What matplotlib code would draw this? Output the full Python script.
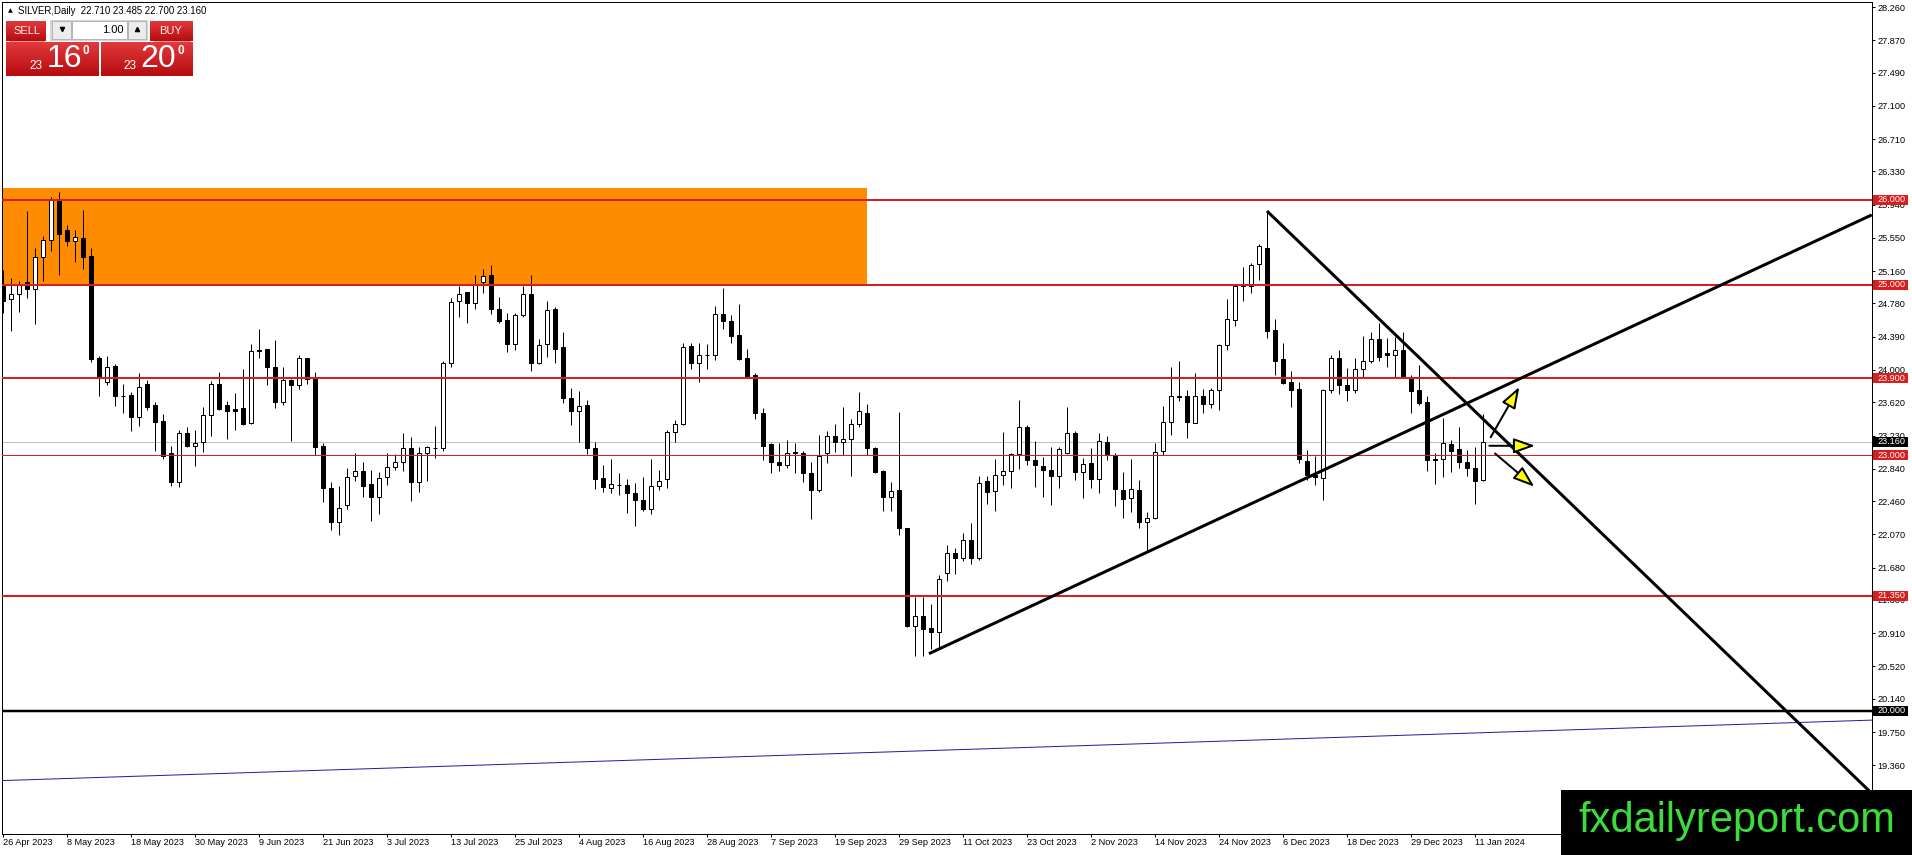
import matplotlib
matplotlib.use("Agg")
import matplotlib.pyplot as plt
import numpy as np
from matplotlib.colors import LinearSegmentedColormap
from matplotlib.patches import Rectangle, FancyArrowPatch

W, H, DPI = 1912, 855, 100
PX = 72 / DPI  # points per pixel

# daily candles, bar 0 = 26 Apr 2023
OPEN = [24.98, 24.83, 24.89, 25.03, 24.95, 25.33, 25.53, 26.00, 25.64, 25.51,
        25.55, 25.34, 24.14, 23.86, 24.05, 23.70, 23.71, 23.45, 23.84, 23.59,
        23.40, 23.02, 22.69, 23.26, 23.11, 23.15, 23.47, 23.84, 23.59, 23.54,
        23.55, 23.38, 24.23, 24.25, 24.03, 23.62, 23.88, 23.82, 24.14, 23.90,
        23.11, 22.61, 22.21, 22.41, 22.75, 22.81, 22.66, 22.51, 22.74, 22.86,
        22.92, 23.08, 22.68, 23.03, 23.08, 23.08, 24.08, 24.81, 24.91, 24.79,
        25.03, 25.11, 24.72, 24.59, 24.30, 24.64, 24.89, 24.08, 24.31, 24.72,
        24.27, 23.67, 23.52, 23.59, 23.08, 22.73, 22.62, 22.65, 22.65, 22.55,
        22.47, 22.37, 22.64, 22.72, 23.27, 23.36, 24.28, 24.08, 24.18, 24.18,
        24.66, 24.57, 24.41, 24.14, 23.94, 23.50, 23.13, 22.92, 22.88, 23.04,
        23.02, 22.79, 22.59, 23.02, 23.22, 23.15, 23.19, 23.36, 23.50, 23.08,
        22.81, 22.51, 22.59, 22.15, 20.99, 21.11, 20.97, 20.93, 21.62, 21.85,
        21.79, 22.00, 21.79, 22.70, 22.58, 22.77, 22.81, 23.01, 23.33, 22.94,
        22.87, 22.83, 22.75, 23.02, 23.26, 22.80, 22.91, 22.72, 23.15, 23.00,
        22.59, 22.50, 22.59, 22.21, 22.26, 23.05, 23.39, 23.70, 23.69, 23.38,
        23.70, 23.60, 23.77, 24.29, 24.59, 24.997, 24.98, 25.24, 25.43, 24.47,
        24.13, 23.86, 23.78, 22.93, 22.77, 22.73, 23.76, 24.14, 23.82, 23.76,
        24.01, 24.10, 24.36, 24.20, 24.18, 24.23, 23.92, 23.76, 23.62, 22.95,
        22.96, 23.13, 23.07, 22.92, 22.85, 22.71]
HIGH = [25.17, 25.08, 25.04, 25.87, 25.43, 25.57, 26.03, 26.09, 25.70, 25.64,
        25.88, 25.43, 24.16, 24.16, 24.07, 23.84, 23.74, 23.96, 23.88, 23.62,
        23.48, 23.11, 23.30, 23.33, 23.30, 23.56, 23.87, 23.98, 23.64, 23.73,
        24.01, 24.30, 24.48, 24.25, 24.35, 24.03, 23.89, 24.18, 24.14, 23.98,
        23.14, 22.69, 22.64, 22.85, 23.03, 22.92, 22.83, 22.80, 23.02, 23.01,
        23.26, 23.21, 23.09, 23.11, 23.34, 24.10, 24.85, 24.98, 24.92, 25.11,
        25.19, 25.23, 24.86, 24.67, 24.67, 24.99, 25.11, 24.36, 24.81, 24.74,
        24.44, 23.79, 23.75, 23.65, 23.15, 22.89, 22.95, 22.79, 22.72, 22.67,
        22.74, 22.96, 22.83, 23.30, 23.41, 24.32, 24.32, 24.32, 24.31, 24.75,
        24.96, 24.64, 24.77, 24.25, 23.96, 23.55, 23.14, 23.14, 23.18, 23.14,
        23.05, 22.92, 23.24, 23.28, 23.37, 23.56, 23.43, 23.74, 23.60, 23.09,
        22.83, 22.69, 23.51, 22.15, 21.34, 21.34, 21.25, 21.59, 21.95, 21.91,
        22.09, 22.20, 22.75, 22.75, 22.95, 23.27, 23.03, 23.65, 23.35, 23.17,
        22.98, 23.09, 23.09, 23.57, 23.28, 22.97, 23.08, 23.26, 23.22, 23.03,
        22.80, 22.95, 22.71, 22.33, 23.14, 23.58, 24.03, 24.10, 23.77, 23.97,
        23.78, 23.79, 24.30, 24.83, 25.00, 25.21, 25.25, 25.48, 25.865, 24.60,
        24.32, 23.99, 23.86, 23.06, 22.99, 23.78, 24.18, 24.24, 24.02, 24.14,
        24.40, 24.44, 24.55, 24.37, 24.39, 24.45, 23.94, 24.06, 23.69, 23.02,
        23.44, 23.18, 23.33, 23.06, 23.10, 23.485]
LOW = [24.67, 24.46, 24.68, 24.84, 24.54, 25.04, 25.40, 25.11, 25.46, 25.27,
       25.18, 24.09, 23.69, 23.82, 23.58, 23.49, 23.28, 23.34, 23.53, 23.05,
       22.96, 22.64, 22.63, 23.10, 22.87, 23.04, 23.22, 23.53, 23.19, 23.29,
       23.35, 23.37, 24.14, 23.82, 23.55, 23.59, 23.17, 23.78, 23.84, 23.00,
       22.45, 22.12, 22.06, 22.37, 22.70, 22.51, 22.23, 22.31, 22.65, 22.82,
       22.81, 22.46, 22.57, 22.70, 22.97, 23.05, 24.04, 24.62, 24.55, 24.72,
       24.90, 24.66, 24.55, 24.21, 24.23, 24.62, 23.99, 24.07, 24.15, 24.08,
       23.61, 23.35, 23.16, 23.01, 22.60, 22.57, 22.56, 22.53, 22.32, 22.17,
       22.35, 22.31, 22.59, 22.62, 23.16, 23.35, 24.01, 23.86, 24.01, 24.12,
       24.48, 24.32, 24.12, 23.92, 23.43, 22.94, 22.79, 22.81, 22.85, 22.79,
       22.69, 22.25, 22.57, 22.91, 23.04, 23.00, 22.76, 23.33, 23.00, 22.79,
       22.35, 22.35, 22.06, 20.98, 20.64, 20.64, 20.73, 20.75, 21.52, 21.61,
       21.76, 21.72, 21.77, 22.43, 22.34, 22.65, 22.61, 22.84, 22.88, 22.63,
       22.51, 22.41, 22.62, 23.01, 22.71, 22.50, 22.62, 22.55, 22.94, 22.40,
       22.26, 22.33, 22.15, 21.87, 22.25, 23.00, 23.24, 23.63, 23.20, 23.38,
       23.50, 23.55, 23.53, 24.23, 24.51, 24.81, 24.90, 25.05, 24.38, 23.94,
       23.84, 23.56, 22.91, 22.71, 22.65, 22.47, 23.73, 23.72, 23.63, 23.73,
       23.92, 24.08, 24.10, 24.04, 23.92, 23.92, 23.50, 23.59, 22.81, 22.66,
       22.74, 22.80, 22.85, 22.75, 22.43, 22.70]
CLOSE = [24.81, 24.89, 25.01, 24.95, 25.33, 25.52, 25.99, 25.60, 25.51, 25.56,
         25.33, 24.13, 23.91, 24.04, 23.69, 23.69, 23.45, 23.80, 23.56, 23.39,
         22.99, 22.68, 23.26, 23.11, 23.14, 23.47, 23.84, 23.54, 23.52, 23.52,
         23.37, 24.22, 24.22, 24.03, 23.62, 23.88, 23.82, 24.14, 23.89, 23.09,
         22.61, 22.21, 22.38, 22.74, 22.81, 22.64, 22.51, 22.73, 22.86, 22.92,
         23.08, 22.68, 23.03, 23.09, 23.085, 24.08, 24.80, 24.89, 24.79, 25.00,
         25.10, 24.72, 24.57, 24.30, 24.64, 24.89, 24.08, 24.29, 24.70, 24.25,
         23.67, 23.52, 23.58, 23.08, 22.72, 22.63, 22.66, 22.645, 22.55, 22.47,
         22.37, 22.64, 22.70, 23.27, 23.36, 24.27, 24.08, 24.17, 24.17, 24.66,
         24.57, 24.40, 24.13, 23.93, 23.49, 23.11, 22.92, 22.88, 23.03, 23.02,
         22.79, 22.59, 22.99, 23.22, 23.15, 23.19, 23.36, 23.52, 23.08, 22.80,
         22.51, 22.58, 22.14, 20.99, 21.11, 20.96, 20.92, 21.55, 21.85, 21.79,
         22.00, 21.79, 22.67, 22.57, 22.77, 22.81, 23.01, 23.33, 22.94, 22.88,
         22.82, 22.75, 23.07, 23.26, 22.80, 22.90, 22.72, 23.17, 23.01, 22.60,
         22.49, 22.60, 22.21, 22.26, 23.04, 23.39, 23.70, 23.68, 23.39, 23.70,
         23.60, 23.77, 24.29, 24.60, 24.985, 24.98, 25.23, 25.45, 24.46, 24.11,
         23.85, 23.76, 22.96, 22.77, 22.74, 23.77, 24.14, 23.82, 23.77, 24.01,
         24.11, 24.36, 24.15, 24.18, 24.23, 23.93, 23.75, 23.61, 22.94, 22.945,
         23.14, 23.05, 22.92, 22.85, 22.70, 23.16]

DATE_LABELS = ["26 Apr 2023", "8 May 2023", "18 May 2023", "30 May 2023", "9 Jun 2023",
               "21 Jun 2023", "3 Jul 2023", "13 Jul 2023", "25 Jul 2023", "4 Aug 2023",
               "16 Aug 2023", "28 Aug 2023", "7 Sep 2023", "19 Sep 2023", "29 Sep 2023",
               "11 Oct 2023", "23 Oct 2023", "2 Nov 2023", "14 Nov 2023", "24 Nov 2023",
               "6 Dec 2023", "18 Dec 2023", "29 Dec 2023", "11 Jan 2024"]
DATE_STEP = 8  # bars between date labels

PRICE_TICKS = [28.26, 27.87, 27.49, 27.10, 26.71, 26.33, 25.94, 25.55, 25.16, 24.78,
               24.39, 24.00, 23.62, 23.23, 22.84, 22.46, 22.07, 21.68, 21.30, 20.91,
               20.52, 20.14, 19.75, 19.36]

RED_LEVELS = [26.0, 25.0, 23.9, 21.35]
THIN_RED_LEVELS = [23.0]
BLACK_LEVELS = [20.0]
BID = 23.16

ZONE_BARS = (-2, 108)
ZONE_PRICES = (25.0, 26.13)
TREND_UP = [(115.75, 20.67), (233.6, 25.82)]
TREND_DOWN = [(158, 25.865), (233.6, 19.03)]
BLUE_LINE = [(-0.2, 19.18), (233.6, 19.89)]
ARROWS = [((185.96, 23.21), (189.54, 23.80)),
          ((185.79, 23.11), (191.5, 23.11)),
          ((186.5, 23.02), (191.41, 22.63))]

RED = "#d81e1e"
FONT = ["Liberation Sans", "DejaVu Sans"]


def draw_panel(ov):
    reds = LinearSegmentedColormap.from_list("mt4red", ["#e23a3c", "#b40c0f"])
    grad = np.linspace(0, 1, 64).reshape(-1, 1)
    for x0, y0, x1, y1 in [(6, 21, 46, 41), (150, 21, 193, 41), (6, 42, 99, 76), (101, 42, 193, 76)]:
        ov.imshow(grad, cmap=reds, extent=(x0, x1, y1, y0), aspect="auto",
                  interpolation="bilinear", zorder=2)
    ov.plot([10, 44], [41.5, 41.5], color="#f08080", lw=0.6, zorder=3)
    ov.plot([154, 190], [41.5, 41.5], color="#f08080", lw=0.6, zorder=3)
    ov.add_patch(Rectangle((50, 20), 98.5, 21.5, fc="#d6d6d6", ec="none", zorder=2))
    for x0, w, fc in [(52, 19.5, "#ececec"), (72, 55.5, "white"), (128, 18.5, "#ececec")]:
        ov.add_patch(Rectangle((x0, 21), w, 18.5, fc=fc, ec="#b4b4b4", lw=0.7, zorder=3))
    ov.plot([61.7], [29.5], marker="v", ms=3, color="black", zorder=4)
    ov.plot([137], [29.5], marker="^", ms=3, color="black", zorder=4)
    ov.text(124, 30, "1.00", ha="right", va="center", fontsize=8, color="black", zorder=4)
    ov.text(26.5, 31, "SELL", ha="center", va="center", fontsize=8, color="#ffe8e8", zorder=4)
    ov.text(170.5, 31, "BUY", ha="center", va="center", fontsize=8, color="#ffe8e8", zorder=4)
    for sx, bx, ex, big in [(36.3, 64, 86.3, "16"), (130.3, 158.3, 181.3, "20")]:
        ov.text(sx, 66, "23", ha="center", va="center", fontsize=8.5, color="white", zorder=4)
        ov.text(bx, 59, big, ha="center", va="center", fontsize=23, color="white", zorder=4)
        ov.text(ex, 51.5, "0", ha="center", va="center", fontsize=8.5, color="white",
                fontweight="bold", zorder=4)
    ov.text(10, 11, "\u25b2", ha="center", va="center", fontsize=4.5, color="black",
            family=["DejaVu Sans"])
    ov.text(18, 11, "SILVER,Daily  22.710 23.485 22.700 23.160", ha="left", va="center",
            fontsize=6.9, color="black")


def main():
    plt.rcParams["font.family"] = FONT
    fig = plt.figure(figsize=(W / DPI, H / DPI), dpi=DPI, facecolor="white")
    ax = fig.add_axes([2 / W, 1 - 834 / H, 1870 / W, 832 / H])

    x = np.arange(len(OPEN))
    o, c = np.array(OPEN), np.array(CLOSE)
    up = c >= o
    body_low = np.minimum(o, c)
    body_h = np.abs(c - o)

    ax.add_patch(Rectangle((ZONE_BARS[0], ZONE_PRICES[0]), ZONE_BARS[1] - ZONE_BARS[0],
                           ZONE_PRICES[1] - ZONE_PRICES[0], fc="#ff8c00", ec="none", zorder=1))
    ax.axhline(BID, color="#c0c0c0", lw=PX, zorder=2)

    ax.vlines(x, LOW, HIGH, color="black", lw=PX, zorder=3)
    ax.bar(x[up], body_h[up], bottom=body_low[up], width=0.56, color="white",
           edgecolor="black", linewidth=PX, zorder=4)
    ax.bar(x[~up], body_h[~up], bottom=body_low[~up], width=0.56, color="black",
           edgecolor="black", linewidth=PX, zorder=4)

    for level in RED_LEVELS:
        ax.axhline(level, color=RED, lw=2 * PX, zorder=5)
    for level in THIN_RED_LEVELS:
        ax.axhline(level, color=RED, lw=PX, zorder=5)
    for level in BLACK_LEVELS:
        ax.axhline(level, color="black", lw=2.5 * PX, zorder=5)
    ax.plot(*zip(*BLUE_LINE), color="#2020a0", lw=PX, zorder=5)

    for line in (TREND_UP, TREND_DOWN):
        ax.plot(*zip(*line), color="black", lw=3 * PX, zorder=6, solid_capstyle="butt")
    for tail, tip in ARROWS:
        ax.add_patch(FancyArrowPatch(tail, tip, arrowstyle="-|>,head_length=13,head_width=4.6",
                                     mutation_scale=1, fc="#ffff00", ec="black", lw=2 * PX,
                                     shrinkA=0, shrinkB=0, zorder=7))

    ax.set_xlim(-0.125, 233.625)
    ax.set_ylim(18.5533, 28.3187)

    ax.yaxis.tick_right()
    ax.set_yticks(PRICE_TICKS)
    ax.set_yticklabels([f"{v:.3f}" for v in PRICE_TICKS])
    ax.tick_params(axis="y", direction="out", length=3 * PX, width=PX, pad=1.5, labelsize=6.6)
    ax.set_xticks(np.arange(len(DATE_LABELS)) * DATE_STEP)
    ax.set_xticklabels(DATE_LABELS)
    for label in ax.get_xticklabels():
        label.set_horizontalalignment("left")
    ax.tick_params(axis="x", direction="out", length=3 * PX, width=PX, pad=0.8, labelsize=6.6)
    for spine in ax.spines.values():
        spine.set_linewidth(PX)
        spine.set_color("black")

    # level price boxes on the price scale
    box_h = 10 / 85.2
    labels = [(v, RED) for v in RED_LEVELS + THIN_RED_LEVELS] + [(v, "black") for v in BLACK_LEVELS] + [(BID, "black")]
    for value, color in labels:
        ax.add_patch(Rectangle((1 + 1 / 1870, value - box_h / 2), 35 / 1870, box_h,
                               transform=ax.get_yaxis_transform(), fc=color, ec="none",
                               clip_on=False, zorder=9))
        ax.text(1 + 5 / 1870, value, f"{value:.3f}", transform=ax.get_yaxis_transform(),
                ha="left", va="center", fontsize=6.6, color="white", clip_on=False, zorder=10)

    ov = fig.add_axes([0, 0, 1, 1])
    ov.patch.set_visible(False)
    ov.set_axis_off()
    draw_panel(ov)
    ov.add_patch(Rectangle((1561, 790), 351, 65, fc="black", ec="none", zorder=5))
    ov.text(1737, 832, "fxdailyreport.com", ha="center", va="baseline", fontsize=30,
            color="#3cdc3c", zorder=6)
    ov.set_xlim(0, W)
    ov.set_ylim(H, 0)

    fig.savefig("out.png", dpi=DPI)
    plt.close(fig)


if __name__ == "__main__":
    main()
